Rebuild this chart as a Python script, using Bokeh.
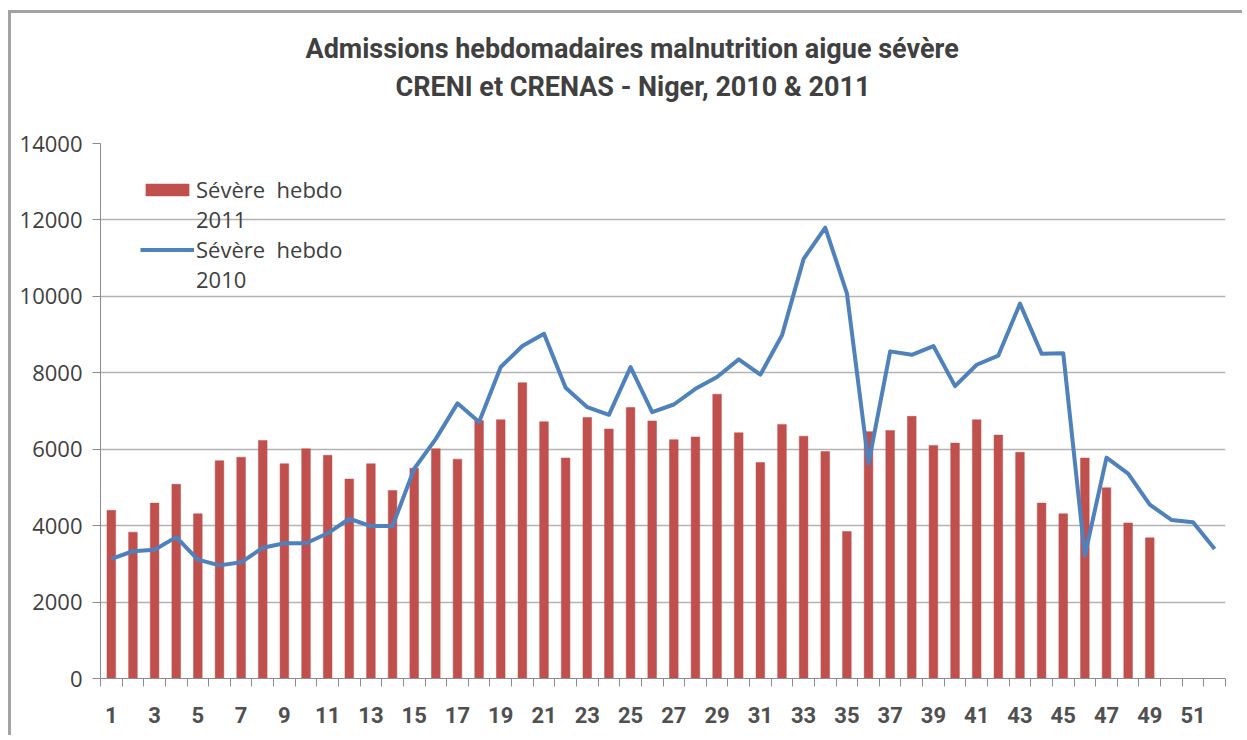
from bokeh.plotting import figure
from bokeh.models import (ColumnDataSource, Range1d, FixedTicker, Legend,
                          LegendItem, Title)
from bokeh.embed import file_html
from bokeh.resources import INLINE

# ---- data -------------------------------------------------------------
title_line1 = "Admissions hebdomadaires malnutrition aigue sévère"
title_line2 = "CRENI et CRENAS - Niger, 2010 & 2011"

weeks = list(range(1, 53))

severe_2011 = [4400, 3830, 4590, 5080, 4310, 5700, 5790, 6230, 5620, 6010,
               5840, 5220, 5620, 4920, 5500, 6010, 5740, 6750, 6770, 7740,
               6720, 5770, 6830, 6530, 7090, 6740, 6250, 6320, 7440, 6430,
               5650, 6650, 6340, 5940, 3850, 6460, 6490, 6860, 6100, 6160,
               6770, 6370, 5920, 4590, 4310, 5770, 4990, 4070, 3680]

severe_2010 = [3130, 3330, 3370, 3700, 3110, 2960, 3040, 3420, 3540, 3540,
               3800, 4180, 3990, 3990, 5490, 6270, 7200, 6710, 8150, 8700,
               9020, 7610, 7100, 6900, 8150, 6970, 7170, 7580, 7890, 8350,
               7950, 8980, 10980, 11800, 10080, 5620, 8560, 8470, 8700, 7650,
               8210, 8450, 9810, 8500, 8510, 3220, 5780, 5360, 4550, 4150,
               4090, 3390]

y_ticks = [0, 2000, 4000, 6000, 8000, 10000, 12000, 14000]
x_tick_labels = [w for w in weeks if w % 2 == 1]

legend_2011 = ["Sévère  hebdo", "2011"]
legend_2010 = ["Sévère  hebdo", "2010"]

# ---- figure -----------------------------------------------------------
src_bar = ColumnDataSource(dict(week=weeks[:len(severe_2011)], val=severe_2011))
src_line = ColumnDataSource(dict(week=weeks, val=severe_2010))

p = figure(width=1234, height=725,
           x_range=Range1d(0.5, len(weeks) + 0.5),
           y_range=Range1d(0, 14000),
           output_backend="svg", toolbar_location=None,
           min_border_left=89, min_border_right=20,
           min_border_top=130, min_border_bottom=60)
p.styles = {"margin-left": "8px", "margin-top": "10px",
            "border-left": "3px solid #a3a3a3", "border-top": "3px solid #a3a3a3"}
p.title.text = ""
p.outline_line_color = None
p.background_fill_color = "white"
p.border_fill_color = "white"

r_bar = p.vbar(x="week", top="val", width=0.4, source=src_bar,
               fill_color="#C0504D", line_color="#C0504D", line_width=0.5)
r_line = p.line(x="week", y="val", source=src_line, line_color="#4F81BD",
                line_width=4, line_join="round")

d1 = p.line(x=[], y=[], line_alpha=0)
d2 = p.line(x=[], y=[], line_alpha=0)

# axes
grey = "#8c8c8c"
p.xgrid.visible = False
p.ygrid.grid_line_color = "#b3b3b3"
p.ygrid.grid_line_width = 1.5

p.yaxis.ticker = FixedTicker(ticks=y_ticks)
p.yaxis.axis_line_color = grey
p.yaxis.major_tick_line_color = grey
p.yaxis.major_tick_out = 8
p.yaxis.major_tick_in = 0
p.yaxis.minor_tick_line_color = None
p.yaxis.major_label_standoff = 10
p.yaxis.major_label_text_font = "Open Sans"
p.yaxis.major_label_text_font_size = "22px"
p.yaxis.major_label_text_color = "#404040"

p.xaxis.ticker = FixedTicker(ticks=x_tick_labels,
                             minor_ticks=[w - 0.5 for w in weeks] + [len(weeks) + 0.5])
p.xaxis.axis_line_color = grey
p.xaxis.major_tick_line_color = None
p.xaxis.major_tick_out = 0
p.xaxis.major_tick_in = 0
p.xaxis.minor_tick_line_color = grey
p.xaxis.minor_tick_out = 8
p.xaxis.minor_tick_in = 0
p.xaxis.major_label_standoff = 20
p.xaxis.major_label_text_font = "Roboto"
p.xaxis.major_label_text_font_style = "bold"
p.xaxis.major_label_text_font_size = "22px"
p.xaxis.major_label_text_color = "#505050"

# title: two lines; the second carries an empty trailing line that keeps
# both lines well above the plot area
t2 = Title(text=title_line2 + "\n", align="left", offset=295, standoff=4,
           text_font="Roboto", text_font_style="bold", text_font_size="27px",
           text_line_height=1.2, text_color="#404040")
t1 = Title(text=title_line1, align="left", offset=205, standoff=6,
           text_font="Roboto", text_font_style="bold", text_font_size="27px",
           text_color="#404040")
p.add_layout(t2, "above")
p.add_layout(t1, "above")

legend = Legend(items=[LegendItem(label=legend_2011[0], renderers=[r_bar]),
                       LegendItem(label=legend_2011[1], renderers=[d1]),
                       LegendItem(label=legend_2010[0], renderers=[r_line]),
                       LegendItem(label=legend_2010[1], renderers=[d2])],
                location=(40, 384), glyph_width=54, glyph_height=15,
                label_height=30, spacing=0, padding=0, margin=0,
                label_standoff=2, background_fill_alpha=0,
                border_line_alpha=0, label_text_font="Open Sans",
                label_text_font_size="22px", label_text_color="#404040")
p.add_layout(legend)

open("out.html", "w").write(file_html(p, INLINE))
